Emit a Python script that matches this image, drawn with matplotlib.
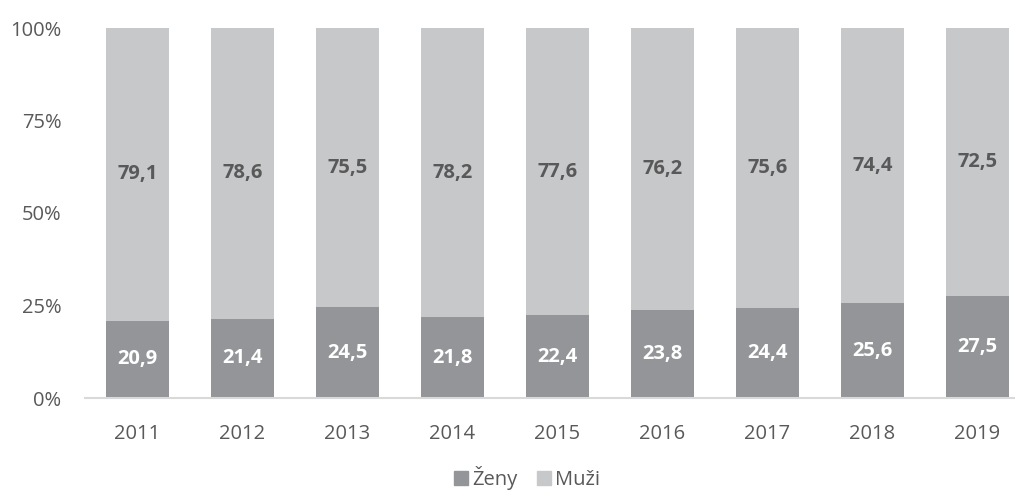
import matplotlib
matplotlib.use("Agg")
import matplotlib.pyplot as plt
from matplotlib.patches import Patch
import numpy as np

years = ["2011", "2012", "2013", "2014", "2015", "2016", "2017", "2018", "2019"]
zeny = [20.9, 21.4, 24.5, 21.8, 22.4, 23.8, 24.4, 25.6, 27.5]
muzi = [79.1, 78.6, 75.5, 78.2, 77.6, 76.2, 75.6, 74.4, 72.5]
yticks = [0, 25, 50, 75, 100]
ytick_labels = ["0%", "25%", "50%", "75%", "100%"]
series_names = ["Ženy", "Muži"]

plt.rcParams["font.family"] = ["Open Sans", "DejaVu Sans"]

dark = "#939598"
light = "#c7c8ca"
text_col = "#595959"

W, H = 1015, 491
fig = plt.figure(figsize=(W / 100, H / 100), dpi=100)
# axes spans px 85..1030 horizontally (right edge runs past the canvas), 28..398 vertically
ax = fig.add_axes([85 / W, 1 - 398 / H, 945 / W, 370 / H])

x = np.arange(len(years))
width = 0.6
ax.bar(x, zeny, width, color=dark, label=series_names[0])
ax.bar(x, muzi, width, bottom=zeny, color=light, label=series_names[1])

for xi, z, m in zip(x, zeny, muzi):
    ax.text(xi, z / 2, f"{z:.1f}".replace(".", ","), ha="center", va="center",
            color="white", fontsize=14.5, fontweight="bold")
    ax.text(xi, z + m / 2, f"{m:.1f}".replace(".", ","), ha="center", va="center",
            color=text_col, fontsize=14.5, fontweight="bold")

ax.set_xlim(-0.5, len(years) - 0.5)
ax.set_ylim(0, 100)
ax.set_yticks(yticks)
ax.set_yticklabels(ytick_labels)
ax.set_xticks(x)
ax.set_xticklabels(years)
ax.tick_params(axis="both", length=0, labelsize=14.5, colors=text_col)
ax.tick_params(axis="x", pad=19)
ax.tick_params(axis="y", pad=17)

for s in ["top", "right", "left"]:
    ax.spines[s].set_visible(False)
ax.spines["bottom"].set_color("#d9d9d9")
ax.spines["bottom"].set_linewidth(1.5)

handles = [Patch(color=dark), Patch(color=light)]
fig.legend(handles, series_names, loc="center", bbox_to_anchor=(527 / W, 1 - 478 / H),
           ncol=2, frameon=False, fontsize=14.5, labelcolor=text_col,
           handlelength=0.7, handleheight=0.7, handletextpad=0.2, columnspacing=1.0,
           borderpad=0.1)

fig.savefig("out.png", dpi=100)
